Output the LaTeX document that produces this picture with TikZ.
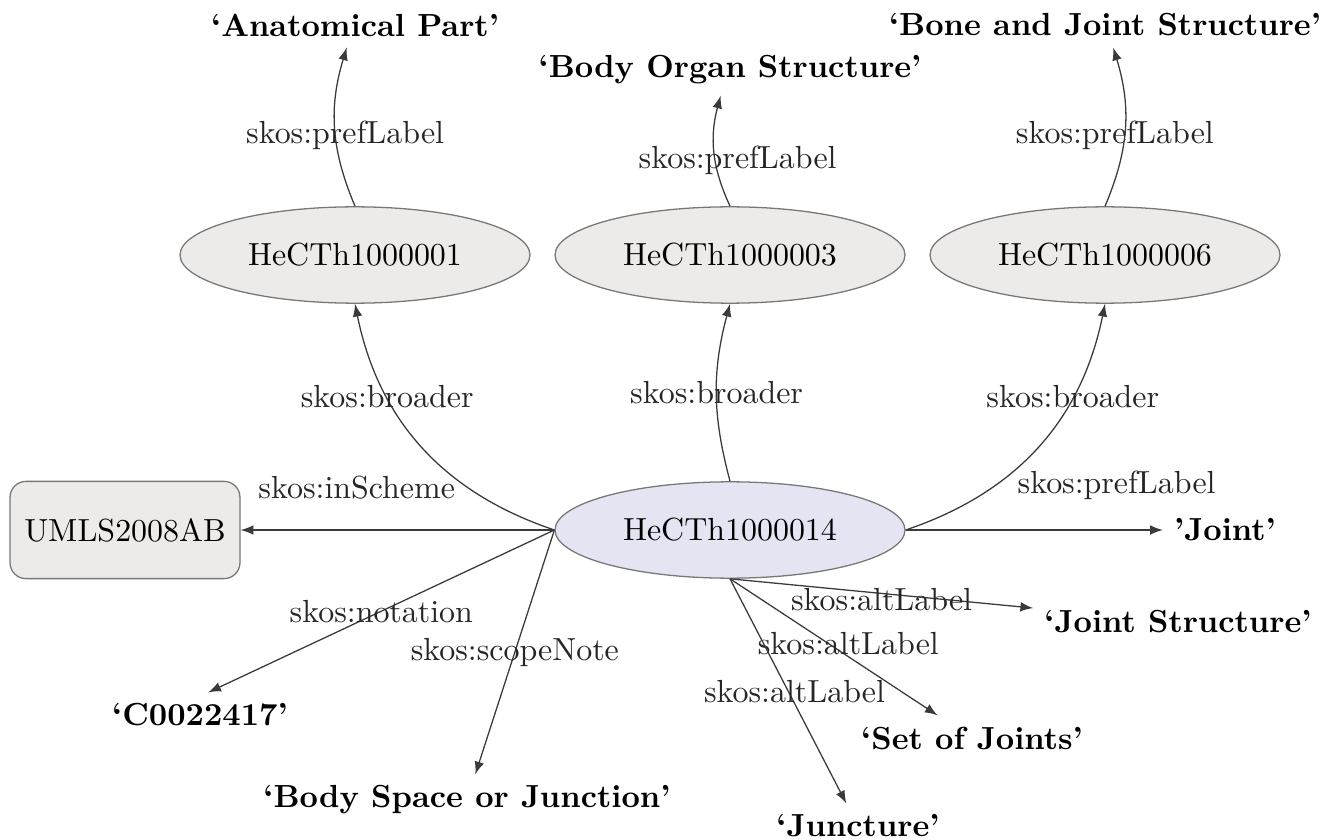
\documentclass[tikz,border=0pt]{standalone}
\usepackage{tikz}
\usetikzlibrary{arrows,shapes,positioning}

\definecolor{conceptgray}{HTML}{EDEBEA}
\definecolor{conceptblue}{HTML}{E4E4F3}
\definecolor{linegray}{HTML}{3A3A3A}
\definecolor{bordergray}{HTML}{777777}

\tikzset{
  concept/.style={ellipse,draw=bordergray,fill=conceptgray,minimum width=3.85cm,minimum height=1.06cm,inner sep=0pt},
  mainconcept/.style={concept,fill=conceptblue},
  scheme/.style={rectangle,rounded corners=5pt,draw=bordergray,fill=conceptgray,minimum width=2.53cm,minimum height=1.07cm},
  literal/.style={font=\bfseries},
  rel/.style={->,>=latex,draw=linegray},
  lbl/.style={text=black!85}
}

\begin{document}
\begin{tikzpicture}[x=0.011cm,y=-0.011cm]
  \useasboundingbox (0,0) rectangle (1322,840); %Fix picture size

  \node[mainconcept] (n14) at (730,530) {HeCTh1000014}; %Central concept
  \node[concept] (n01) at (355,255) {HeCTh1000001}; %Broader concepts
  \node[concept] (n03) at (730,255) {HeCTh1000003};
  \node[concept] (n06) at (1105,255) {HeCTh1000006};
  \node[scheme] (umls) at (125,530) {UMLS2008AB}; %Concept scheme

  \node[literal] (anat) at (355,25) {`Anatomical Part'}; %Preferred labels
  \node[literal] (organ) at (730,70) {`Body Organ Structure'};
  \node[literal] (bone) at (1105,25) {`Bone and Joint Structure'};
  \node[literal] (joint) at (1225,530) {'Joint'};
  \node[literal] (jstruct) at (1178,622) {`Joint Structure'}; %Alternative labels
  \node[literal] (setjoints) at (972,738) {`Set of Joints'};
  \node[literal] (juncture) at (858,826) {`Juncture'};
  \node[literal] (code) at (200,715) {`C0022417'}; %Notation
  \node[literal] (space) at (467,800) {`Body Space or Junction'}; %Scope note

  \draw[rel] (n01.north) to[bend left=20] node[lbl,pos=0.45,xshift=3pt]{skos:prefLabel} (anat);
  \draw[rel] (n03.north) to[bend left=20] node[lbl,pos=0.42,xshift=7pt]{skos:prefLabel} (organ);
  \draw[rel] (n06.north) to[bend right=20] node[lbl,pos=0.45,xshift=-3pt]{skos:prefLabel} (bone);

  \draw[rel] (n14.west) to[bend left=30] node[lbl,pos=0.7]{skos:broader} (n01.south);
  \draw[rel] (n14.north) to[bend left=15] node[lbl]{skos:broader} (n03.south);
  \draw[rel] (n14.east) to[bend right=30] node[lbl,pos=0.7]{skos:broader} (n06.south);

  \draw[rel] (n14.west) -- node[lbl,pos=0.63,above=6pt]{skos:inScheme} (umls);
  \draw[rel] (n14.east) -- node[lbl,pos=0.82,above=6pt]{skos:prefLabel} (joint);
  \draw[rel] (n14.west) -- node[lbl]{skos:notation} (code.70);
  \draw[rel] (n14.west) -- node[lbl]{skos:scopeNote} (space);

  \draw[rel] (n14.south) -- node[lbl,yshift=-2pt]{skos:altLabel} (jstruct);
  \draw[rel] (n14.south) -- node[lbl,pos=0.57,yshift=4pt]{skos:altLabel} (setjoints);
  \draw[rel] (n14.south) -- node[lbl,xshift=2pt]{skos:altLabel} (juncture);
\end{tikzpicture}
\end{document}
